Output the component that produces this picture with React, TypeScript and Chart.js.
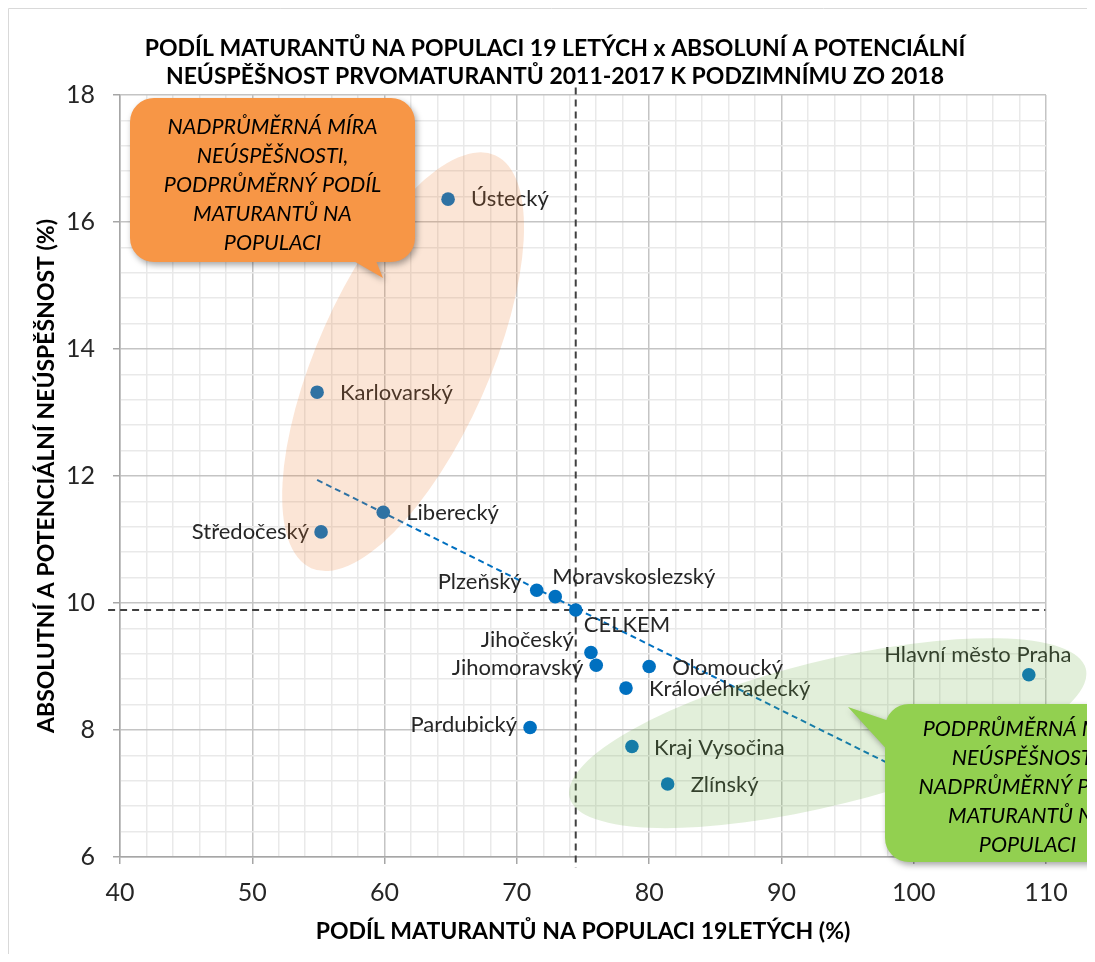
import React, { useEffect, useRef } from 'react';
import { Chart, registerables } from 'chart.js';

Chart.register(...registerables);

// ---------- data ----------
const regions = [
  'Ústecký', 'Karlovarský', 'Liberecký', 'Středočeský', 'Plzeňský', 'Moravskoslezský',
  'Jihočeský', 'Jihomoravský', 'Olomoucký', 'Královéhradecký', 'Pardubický',
  'Kraj Vysočina', 'Zlínský', 'Hlavní město Praha',
];
const shareOfMaturants = [64.8, 54.9, 59.9, 55.2, 71.5, 72.9, 75.6, 76.0, 80.0, 78.25, 71.0, 78.7, 81.4, 108.7];
const failureRate = [16.36, 13.32, 11.43, 11.12, 10.2, 10.1, 9.22, 9.02, 9.0, 8.66, 8.04, 7.74, 7.15, 8.87];

const totalLabel = 'CELKEM';
const totalShare = 74.45;
const totalFailure = 9.89;

const xTickLabels = [40, 50, 60, 70, 80, 90, 100, 110];
const yTickLabels = [6, 8, 10, 12, 14, 16, 18];
const xMinorStep = 2;
const yMinorStep = 0.4;

const titleLines = [
  'PODÍL MATURANTŮ NA POPULACI 19 LETÝCH x ABSOLUNÍ A POTENCIÁLNÍ',
  'NEÚSPĚŠNOST PRVOMATURANTŮ 2011-2017 K PODZIMNÍMU ZO 2018',
];
const xTitle = 'PODÍL MATURANTŮ NA POPULACI 19LETÝCH (%)';
const yTitle = 'ABSOLUTNÍ A POTENCIÁLNÍ NEÚSPĚŠNOST (%)';

const calloutAbove = ['NADPRŮMĚRNÁ MÍRA', 'NEÚSPĚŠNOSTI,', 'PODPRŮMĚRNÝ PODÍL', 'MATURANTŮ NA', 'POPULACI'];
const calloutBelow = ['PODPRŮMĚRNÁ MÍRA', 'NEÚSPĚŠNOSTI,', 'NADPRŮMĚRNÝ PODÍL', 'MATURANTŮ NA', 'POPULACI'];

// ---------- styling / layout (not data) ----------
const FONT = 'Lato';
const POINT_COLOR = '#0070C0';
const MAJOR_GRID = '#c4c4c4';
const MINOR_GRID = '#e9e9e9';
const AXIS_COLOR = '#a6a6a6';
const W = 1087;
const H = 946;

// label placement: [textAlign, dx, dy] relative to the point
const labelLayout: Record<string, [CanvasTextAlign, number, number]> = {
  'Ústecký': ['left', 23, 0],
  'Karlovarský': ['left', 23, 1],
  'Liberecký': ['left', 23, 1],
  'Středočeský': ['right', -12, 0],
  'Plzeňský': ['right', -15, -8],
  'Moravskoslezský': ['left', -3, -20],
  'Jihočeský': ['right', -17, -13],
  'Jihomoravský': ['right', -13, 3],
  'Olomoucký': ['left', 23, 1],
  'Královéhradecký': ['left', 23, 1],
  'Pardubický': ['right', -13, -3],
  'Kraj Vysočina': ['left', 22, 1],
  'Zlínský': ['left', 23, 1],
  'Hlavní město Praha': ['center', -51, -20],
  'CELKEM': ['left', 8, 15],
};

const isOn = (v: number, list: number[]) => list.some((t) => Math.abs(t - v) < 1e-6);

function linearFit(xs: number[], ys: number[]) {
  const n = xs.length;
  const mx = xs.reduce((a, b) => a + b, 0) / n;
  const my = ys.reduce((a, b) => a + b, 0) / n;
  let sxy = 0, sxx = 0;
  for (let i = 0; i < n; i++) {
    sxy += (xs[i] - mx) * (ys[i] - my);
    sxx += (xs[i] - mx) ** 2;
  }
  const slope = sxy / sxx;
  return { slope, intercept: my - slope * mx };
}

function roundedCallout(
  ctx: CanvasRenderingContext2D, x: number, y: number, w: number, h: number, r: number,
  tail: [number, number][], fill: string,
) {
  ctx.save();
  ctx.beginPath();
  ctx.roundRect(x, y, w, h, r);
  ctx.moveTo(tail[0][0], tail[0][1]);
  ctx.lineTo(tail[1][0], tail[1][1]);
  ctx.lineTo(tail[2][0], tail[2][1]);
  ctx.closePath();
  ctx.shadowColor = 'rgba(0,0,0,0.35)';
  ctx.shadowBlur = 6;
  ctx.shadowOffsetX = 2;
  ctx.shadowOffsetY = 3;
  ctx.fillStyle = fill;
  ctx.fill('nonzero');
  ctx.restore();
}

function calloutText(ctx: CanvasRenderingContext2D, lines: string[], cx: number, y0: number, step: number) {
  ctx.save();
  ctx.font = `italic 21.5px ${FONT}`;
  ctx.fillStyle = '#000';
  ctx.textAlign = 'center';
  ctx.textBaseline = 'middle';
  lines.forEach((l, i) => ctx.fillText(l, cx, y0 + i * step));
  ctx.restore();
}

const overlayPlugin = {
  id: 'overlay',
  afterLayout(chart: any) {
    // centre the title on the whole chart area (as in the original), not on the padded box
    if (chart.titleBlock) {
      chart.titleBlock.left = 7;
      chart.titleBlock.right = chart.width;
      chart.titleBlock.width = chart.width - 7;
    }
  },
  afterDatasetsDraw(chart: any) {
    const ctx: CanvasRenderingContext2D = chart.ctx;
    const xs = chart.scales.x;
    const ys = chart.scales.y;

    // point labels
    ctx.save();
    ctx.font = `22px ${FONT}`;
    ctx.fillStyle = '#262626';
    ctx.textBaseline = 'middle';
    const drawLabels = (dsIndex: number, names: string[]) => {
      const meta = chart.getDatasetMeta(dsIndex);
      meta.data.forEach((el: any, i: number) => {
        const name = names[i];
        const [align, dx, dy] = labelLayout[name] || ['left', 12, 0];
        ctx.textAlign = align;
        ctx.fillText(name, el.x + dx, el.y + dy);
      });
    };
    drawLabels(0, regions);
    drawLabels(1, [totalLabel]);
    ctx.restore();

    // translucent highlight ellipses (over the marks)
    ctx.save();
    ctx.globalAlpha = 0.2;
    ctx.fillStyle = '#ED7D31';
    ctx.beginPath();
    ctx.ellipse(xs.getPixelForValue(61.4), ys.getPixelForValue(13.8), 226, 86, -66 * Math.PI / 180, 0, Math.PI * 2);
    ctx.fill();
    ctx.fillStyle = '#70AD47';
    ctx.beginPath();
    ctx.ellipse(xs.getPixelForValue(93.5), ys.getPixelForValue(7.95), 266, 72, -14 * Math.PI / 180, 0, Math.PI * 2);
    ctx.fill();
    ctx.restore();

    // callouts
    roundedCallout(ctx, 122, 90, 285, 164, 24, [[366, 248], [375, 270], [337, 248]], '#F79646');
    calloutText(ctx, calloutAbove, 264.5, 119, 29);
    roundedCallout(ctx, 877, 696, 285, 158, 24, [[884, 747], [840, 699], [884, 714]], '#92D050');
    calloutText(ctx, calloutBelow, 1019.5, 721, 29);
  },
  afterDraw(chart: any) {
    const ctx: CanvasRenderingContext2D = chart.ctx;
    ctx.save();
    ctx.strokeStyle = '#d9d9d9';
    ctx.lineWidth = 1;
    ctx.beginPath();
    ctx.moveTo(0.5, chart.height);
    ctx.lineTo(0.5, 0.5);
    ctx.lineTo(chart.width, 0.5);
    ctx.stroke();
    ctx.restore();
  },
};

export default function App() {
  const ref = useRef<HTMLCanvasElement>(null);

  useEffect(() => {
    if (!ref.current) return;
    const fit = linearFit(shareOfMaturants, failureRate);
    const xLo = Math.min(...shareOfMaturants);
    const xHi = Math.max(...shareOfMaturants);
    const xMin = xTickLabels[0];
    const xMax = xTickLabels[xTickLabels.length - 1];
    const yMin = yTickLabels[0];
    const yMax = yTickLabels[yTickLabels.length - 1];

    const chart = new Chart(ref.current, {
      type: 'scatter',
      data: {
        datasets: [
          {
            label: 'Kraje',
            data: regions.map((_, i) => ({ x: shareOfMaturants[i], y: failureRate[i] })),
            backgroundColor: POINT_COLOR,
            borderColor: POINT_COLOR,
            pointRadius: 6.8,
            borderWidth: 0,
          },
          {
            label: totalLabel,
            data: [{ x: totalShare, y: totalFailure }],
            backgroundColor: POINT_COLOR,
            borderColor: POINT_COLOR,
            pointRadius: 6.8,
            borderWidth: 0,
          },
          {
            label: 'Trend',
            data: [
              { x: xLo, y: fit.intercept + fit.slope * xLo },
              { x: xHi, y: fit.intercept + fit.slope * xHi },
            ],
            showLine: true,
            borderColor: POINT_COLOR,
            borderWidth: 2,
            borderDash: [6, 4],
            pointRadius: 0,
          },
          {
            label: 'avgX',
            data: [{ x: totalShare, y: yMax + 0.12 }, { x: totalShare, y: yMin - 0.17 }],
            showLine: true,
            borderColor: '#404040',
            borderWidth: 2,
            borderDash: [7, 5],
            pointRadius: 0,
            clip: false,
          } as any,
          {
            label: 'avgY',
            data: [{ x: xMin - 0.9, y: totalFailure }, { x: xMax - 0.05, y: totalFailure }],
            showLine: true,
            borderColor: '#404040',
            borderWidth: 2,
            borderDash: [7, 5],
            pointRadius: 0,
            clip: false,
          } as any,
        ],
      },
      options: {
        responsive: false,
        animation: false,
        devicePixelRatio: 1,
        layout: { padding: { left: 7, right: 49, top: 0, bottom: 0 } },
        font: { family: FONT },
        plugins: {
          legend: { display: false },
          tooltip: { enabled: false },
          title: {
            display: true,
            text: titleLines,
            color: '#000',
            font: { family: FONT, size: 23, weight: 'bold', lineHeight: 28 / 23 },
            padding: { top: 27, bottom: 4 },
          },
        },
        scales: {
          x: {
            type: 'linear',
            min: xMin,
            max: xMax,
            afterFit: (s: any) => { s.height = H - 849; },
            ticks: {
              stepSize: xMinorStep,
              autoSkip: false,
              maxRotation: 0,
              padding: 14,
              color: '#262626',
              font: { family: FONT, size: 25 },
              callback: (v: any) => (isOn(Number(v), xTickLabels) ? String(v) : ''),
            },
            grid: {
              color: (c: any) => (c.tick && isOn(c.tick.value, xTickLabels) ? MAJOR_GRID : MINOR_GRID),
              lineWidth: 1.5,
              tickLength: 7,
              tickWidth: 1.5,
              tickColor: (c: any) => (c.tick && isOn(c.tick.value, xTickLabels) ? AXIS_COLOR : 'rgba(0,0,0,0)'),
            },
            border: { color: AXIS_COLOR, width: 1.5 },
            title: {
              display: true,
              text: xTitle,
              color: '#000',
              font: { family: FONT, size: 23, weight: 'bold' },
              padding: { top: 0, bottom: 9 },
            },
          },
          y: {
            type: 'linear',
            min: yMin,
            max: yMax,
            afterFit: (s: any) => { s.width = 105; },
            ticks: {
              stepSize: yMinorStep,
              autoSkip: false,
              padding: 18,
              color: '#262626',
              font: { family: FONT, size: 25 },
              callback: (v: any) => (isOn(Number(v), yTickLabels) ? String(Math.round(Number(v))) : ''),
            },
            grid: {
              color: (c: any) => (c.tick && isOn(c.tick.value, yTickLabels) ? MAJOR_GRID : MINOR_GRID),
              lineWidth: 1.5,
              tickLength: 7,
              tickWidth: 1.5,
              tickColor: (c: any) => (c.tick && isOn(c.tick.value, yTickLabels) ? AXIS_COLOR : 'rgba(0,0,0,0)'),
            },
            border: { color: AXIS_COLOR, width: 1.5 },
            title: {
              display: true,
              text: yTitle,
              color: '#000',
              font: { family: FONT, size: 23, weight: 'bold' },
              padding: { top: 18, bottom: 0 },
            },
          },
        },
      } as any,
      plugins: [overlayPlugin],
    });
    return () => chart.destroy();
  }, []);

  return (
    <div style={{ width: W, height: H }}>
      <canvas ref={ref} width={W} height={H} style={{ display: 'block' }} />
    </div>
  );
}
